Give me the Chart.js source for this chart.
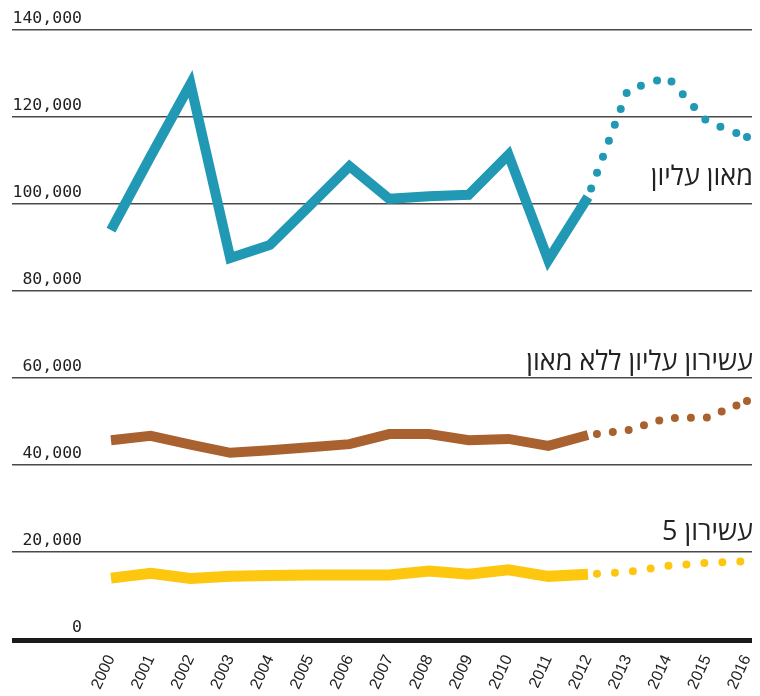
<!DOCTYPE html>
<html lang="he">
<head>
<meta charset="utf-8">
<script src="https://cdn.jsdelivr.net/npm/chart.js@4"></script>
<style>
  html, body { margin: 0; padding: 0; background: #fff; }
  canvas { display: block; }
</style>
</head>
<body>
<canvas id="chart" width="760" height="696"></canvas>
<script>
// Years on the x axis, 2012 on is the forecast part (dotted)
const years = [2000, 2001, 2002, 2003, 2004, 2005, 2006, 2007, 2008, 2009, 2010, 2011, 2012, 2013, 2014, 2015, 2016];
const forecastFrom = 2012;

// Series values
const topPercentile = [94000, 111000, 127600, 87600, 90600, 99600, 108700, 101200, 101800, 102100, 111300, 87100, 101600, 126200, 129200, 118900, 115400];
const topDecileNoPercentile = [45700, 46700, 44700, 42800, 43400, 44100, 44800, 47100, 47100, 45700, 46000, 44400, 46900, 48000, 50800, 50900, 54700];
const decile5 = [14000, 15100, 13900, 14400, 14600, 14700, 14700, 14700, 15600, 14900, 15900, 14400, 14900, 15400, 16800, 17500, 17900];

// Tick labels on the y axis
const yTicks = [0, 20000, 40000, 60000, 80000, 100000, 120000, 140000];

// Series names, written next to each line
const seriesNames = ['מאון עליון', 'עשירון עליון ללא מאון', 'עשירון 5'];
const seriesColors = ['#2199b4', '#a9622f', '#fec70f'];

function points(values, solid) {
    return years
        .map((yr, i) => ({ x: yr, y: values[i] }))
        .filter(p => solid ? p.x <= forecastFrom : p.x >= forecastFrom);
}

function solidSet(values, color, width) {
    return {
        data: points(values, true),
        borderColor: color,
        borderWidth: width,
        borderCapStyle: 'butt',
        borderJoinStyle: 'miter',
        pointRadius: 0,
        tension: 0
    };
}

function dottedSet(values, color, gap, endDot) {
    const data = points(values, false);
    return {
        data: data,
        borderColor: color,
        borderWidth: 8,
        borderCapStyle: 'round',
        borderDash: [0, gap],
        borderDashOffset: gap - 9,
        // a dot on the last year so the line ends on a dot
        pointRadius: c => endDot && c.dataIndex === data.length - 1 ? 4 : 0,
        pointBackgroundColor: color,
        pointBorderWidth: 0,
        tension: 0
    };
}

// y anchor (in data units) for the series name labels
const nameAnchors = [104400, 61800, 22700];

const labelsPlugin = {
    id: 'labels',
    afterDraw(chart) {
        const ctx = chart.ctx;
        const y = chart.scales.y;
        const area = chart.chartArea;
        ctx.save();

        // thick baseline
        ctx.fillStyle = '#1a1a1a';
        ctx.fillRect(area.left, y.getPixelForValue(0) - 1, area.right - area.left, 5);

        // y tick labels, sitting above the grid lines
        ctx.font = '16.5px "DejaVu Sans Mono", monospace';
        ctx.fillStyle = '#222';
        ctx.textAlign = 'right';
        ctx.textBaseline = 'alphabetic';
        yTicks.forEach(v => {
            ctx.fillText(v.toLocaleString('en-US'), area.left + 70, y.getPixelForValue(v) - 7);
        });

        // series names
        ctx.font = '27px "Open Sans", sans-serif';
        ctx.direction = 'rtl';
        ctx.textAlign = 'right';
        seriesNames.forEach((name, i) => {
            ctx.fillText(name, area.right + 1, y.getPixelForValue(nameAnchors[i]));
        });
        ctx.restore();
    }
};

new Chart(document.getElementById('chart'), {
    type: 'line',
    data: {
        datasets: [
            solidSet(decile5, seriesColors[2], 11),
            dottedSet(decile5, seriesColors[2], 18, false),
            solidSet(topDecileNoPercentile, seriesColors[1], 10),
            dottedSet(topDecileNoPercentile, seriesColors[1], 16, true),
            solidSet(topPercentile, seriesColors[0], 10),
            dottedSet(topPercentile, seriesColors[0], 17, true)
        ]
    },
    options: {
        responsive: false,
        animation: false,
        layout: { padding: { left: 12, right: 8, top: 30, bottom: 0 } },
        plugins: {
            legend: { display: false },
            tooltip: { enabled: false }
        },
        scales: {
            x: {
                type: 'linear',
                min: 1997.51,
                max: 2016.126,
                afterBuildTicks: axis => { axis.ticks = years.map(v => ({ value: v })); },
                afterFit: axis => {
                    axis.height = 57;
                    axis.paddingLeft = 0;
                    axis.paddingRight = 0;
                },
                grid: { display: false, drawTicks: false },
                border: { display: false },
                ticks: {
                    autoSkip: false,
                    minRotation: 65,
                    maxRotation: 65,
                    padding: 13,
                    color: '#222',
                    font: { family: '"Liberation Sans", Arial, sans-serif', size: 16 },
                    callback: v => String(v)
                }
            },
            y: {
                min: 0,
                max: 140000,
                afterBuildTicks: axis => { axis.ticks = yTicks.map(v => ({ value: v })); },
                afterFit: axis => {
                    axis.width = 0;
                    axis.paddingTop = 0;
                    axis.paddingBottom = 0;
                },
                grid: { color: '#4a4a4a', lineWidth: 1.5, drawTicks: false },
                border: { display: false },
                ticks: { display: false }
            }
        }
    },
    plugins: [labelsPlugin]
});
</script>
</body>
</html>
